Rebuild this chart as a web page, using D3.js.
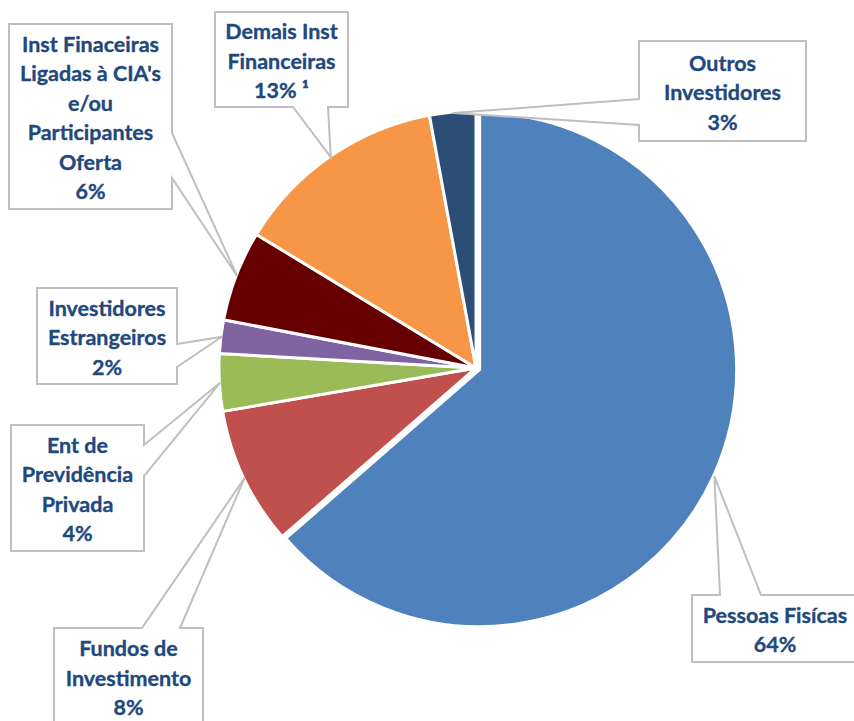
<!DOCTYPE html>
<html>
<head>
<meta charset="utf-8">
<script src="https://cdn.jsdelivr.net/npm/d3@7"></script>
<style>
  html, body { margin: 0; padding: 0; background: #fff; }
  svg { display: block; }
</style>
</head>
<body>
<svg id="chart" width="854" height="721"></svg>
<script>
// ---- data ----
const categories = [
  "Pessoas Fisícas",
  "Fundos de Investimento",
  "Ent de Previdência Privada",
  "Investidores Estrangeiros",
  "Inst Finaceiras Ligadas à CIA's e/ou Participantes Oferta",
  "Demais Inst Financeiras",
  "Outros Investidores"
];
const shares = [63.6, 8.7, 3.6, 2.1, 5.7, 13.4, 2.9];
const percentLabels = ["64%", "8%", "4%", "2%", "6%", "13% \u00B9", "3%"];
const labelLines = [
  ["Pessoas Fisícas"],
  ["Fundos de", "Investimento"],
  ["Ent de", "Previdência", "Privada"],
  ["Investidores", "Estrangeiros"],
  ["Inst Finaceiras", "Ligadas à CIA's", "e/ou", "Participantes", "Oferta"],
  ["Demais Inst", "Financeiras"],
  ["Outros", "Investidores"]
];
const colors = ["#4f81bd", "#c0504d", "#9bbb59", "#8064a2", "#660000", "#f79646", "#2c4d75"];

// ---- layout (callout boxes) ----
const boxes = [
  {x0: 692, y0: 595, x1: 858, y1: 662, side: "top",    b: [720, 761]},
  {x0: 54,  y0: 628, x1: 203, y1: 728, side: "top",    b: [142, 180]},
  {x0: 11,  y0: 425, x1: 144, y1: 551, side: "right",  b: [445, 476]},
  {x0: 37,  y0: 288, x1: 177, y1: 384, side: "right",  b: [344, 367]},
  {x0: 9,   y0: 24,  x1: 172, y1: 209, side: "right",  b: [133, 178]},
  {x0: 215, y0: 12,  x1: 348, y1: 107, side: "bottom", b: [293, 328]},
  {x0: 639, y0: 41,  x1: 806, y1: 141, side: "left",   b: [99, 125]}
];

const cx = 476, cy = 368, R = 257;
const explode = [4, 0, 0, 0, 0, 0, 0];

const svg = d3.select("#chart");
const pie = d3.pie().sort(null).value(d => d)(shares);
const arc = d3.arc().innerRadius(0).outerRadius(R);

const g = svg.append("g").attr("transform", `translate(${cx},${cy})`);
g.selectAll("path.slice")
  .data(pie)
  .join("path")
  .attr("class", "slice")
  .attr("d", arc)
  .attr("fill", (d, i) => colors[i])
  .attr("stroke", "#fff")
  .attr("stroke-width", 3)
  .attr("stroke-linejoin", "miter")
  .attr("transform", (d, i) => {
    const a = (d.startAngle + d.endAngle) / 2;
    return `translate(${Math.sin(a) * explode[i]},${-Math.cos(a) * explode[i]})`;
  });

// callouts
function calloutPath(b, tip) {
  const {x0, y0, x1, y1, side} = b;
  const [p, q] = b.b;
  const t = `${tip[0]},${tip[1]}`;
  if (side === "top")
    return `M${x0},${y0}L${p},${y0}L${t}L${q},${y0}L${x1},${y0}L${x1},${y1}L${x0},${y1}Z`;
  if (side === "bottom")
    return `M${x0},${y0}L${x1},${y0}L${x1},${y1}L${q},${y1}L${t}L${p},${y1}L${x0},${y1}Z`;
  if (side === "right")
    return `M${x0},${y0}L${x1},${y0}L${x1},${p}L${t}L${x1},${q}L${x1},${y1}L${x0},${y1}Z`;
  return `M${x0},${y0}L${x1},${y0}L${x1},${y1}L${x0},${y1}L${x0},${q}L${t}L${x0},${p}Z`;
}

const callouts = svg.append("g");
pie.forEach((d, i) => {
  const a = (d.startAngle + d.endAngle) / 2;
  const r = R - 1 + explode[i] * 1.5;
  const tip = [cx + Math.sin(a) * r, cy - Math.cos(a) * r];
  const b = boxes[i];
  callouts.append("path")
    .attr("d", calloutPath(b, tip))
    .attr("fill", "#fff")
    .attr("stroke", "#bfbfbf")
    .attr("stroke-width", 2)
    .attr("stroke-linejoin", "miter");
  const lines = labelLines[i].concat([percentLabels[i]]);
  const lh = 29.5;
  const mx = (b.x0 + b.x1) / 2;
  const my = (Math.min(b.y1, 721 + 4) + b.y0) / 2 + 1.5;
  const top = my - (lines.length - 1) * lh / 2;
  const txt = callouts.append("text")
    .attr("text-anchor", "middle")
    .attr("font-family", "Lato, 'Open Sans', sans-serif")
    .attr("font-weight", "bold")
    .attr("font-size", 21.5)
    .attr("fill", "#1f497d")
    .attr("stroke", "#1f497d")
    .attr("stroke-width", 0.35);
  lines.forEach((s, k) => {
    txt.append("tspan").attr("x", mx).attr("y", top + k * lh + 7.5).text(s);
  });
});
</script>
</body>
</html>
